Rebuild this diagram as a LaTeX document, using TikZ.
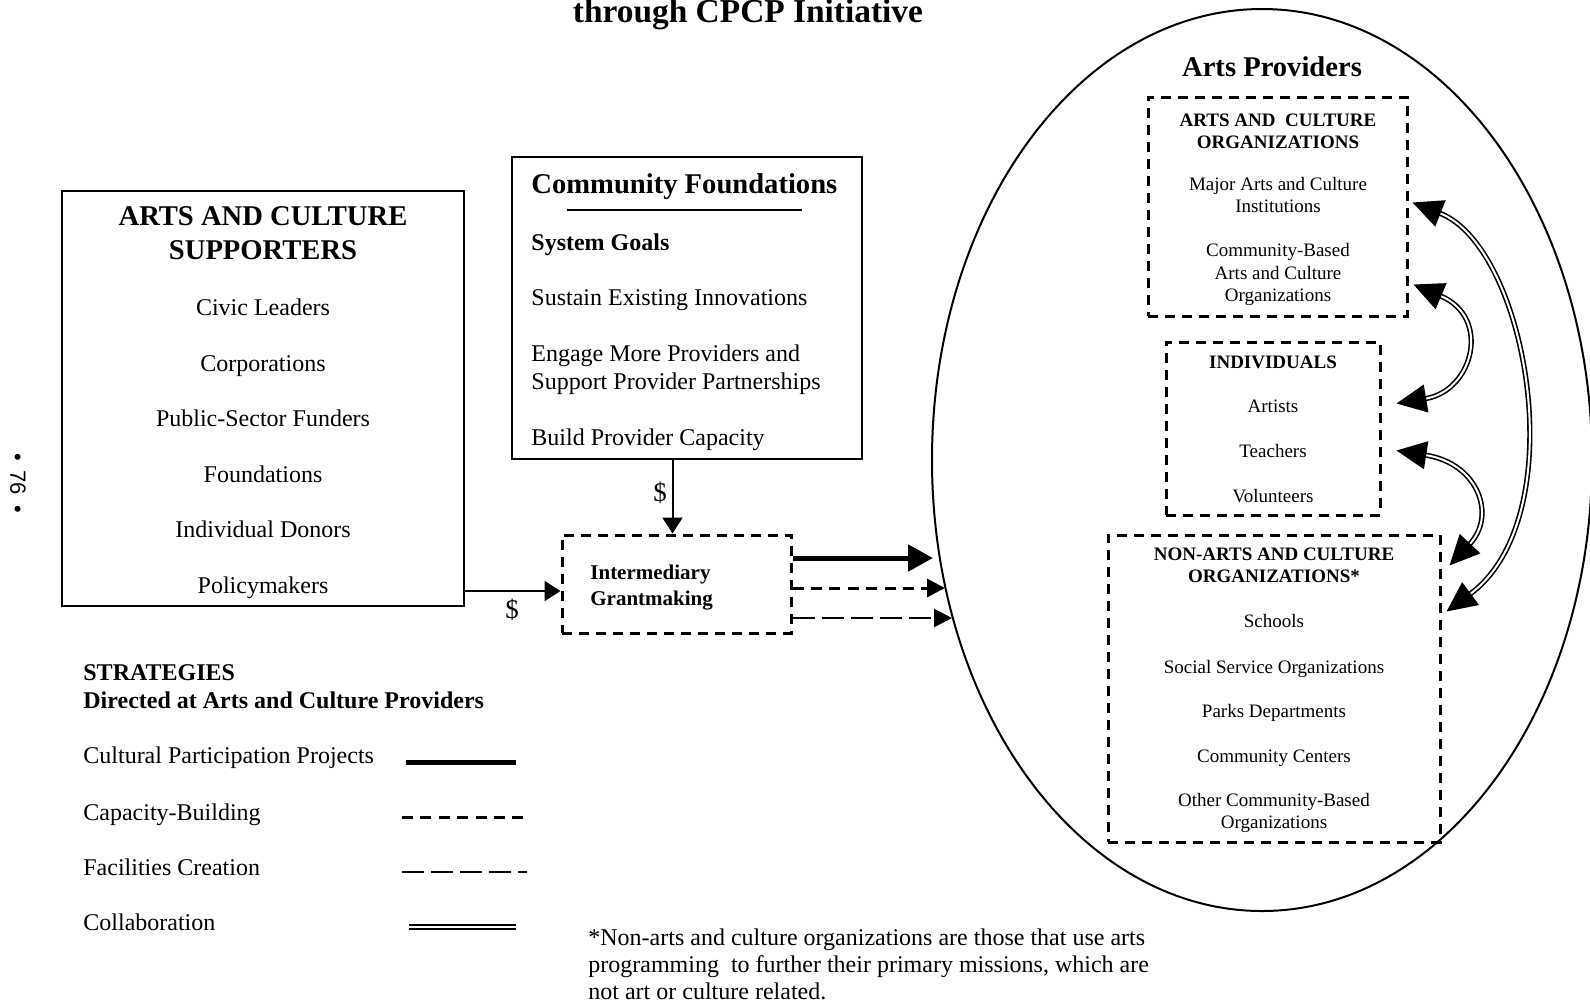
\documentclass[tikz,border=0pt]{standalone}
\usepackage{fontspec}
\setmainfont{Liberation Serif}
\newfontfamily\pagenumfont{Liberation Sans}
\usetikzlibrary{arrows.meta,calc,shapes.geometric}

\tikzset{
  bigtitle/.style={font=\fontsize{14.3}{16}\selectfont\bfseries, anchor=base, inner sep=0pt},
  itemtext/.style={font=\fontsize{12}{14}\selectfont, anchor=base, inner sep=0pt},
  itemhead/.style={font=\fontsize{12}{14}\selectfont\bfseries, anchor=base, inner sep=0pt},
  smalltext/.style={font=\fontsize{9.5}{11}\selectfont, anchor=base, inner sep=0pt},
  smallhead/.style={font=\fontsize{9.5}{11}\selectfont\bfseries, anchor=base, inner sep=0pt},
  solidbox/.style={draw, line width=1pt, inner sep=0pt},
  dashbox/.style={draw, line width=1.5pt, dash pattern=on 5pt off 3.5pt, inner sep=0pt},
  money/.style={-{Triangle[length=8pt,width=10pt]}, line width=1pt},
  cppline/.style={line width=2.5pt},
  capline/.style={line width=1.5pt, dash pattern=on 5.5pt off 3.7pt},
  facline/.style={line width=1.2pt, dash pattern=on 11pt off 3.5pt},
  collabline/.style={double, line width=1pt, double distance=1pt},
  collab/.style={arrows={Triangle[length=15pt,width=14pt]-Triangle[length=15pt,width=14pt]},
    double, line width=0.8pt, double distance=1pt},
}

\begin{document}
\begin{tikzpicture}[x=0.5pt, y=-0.5pt]
        \useasboundingbox (0,0) rectangle (1590,1003);

        % Title
        \node[font=\fontsize{16.7}{18}\selectfont\bfseries, anchor=base, inner sep=0pt] (title) at (748,22) {through CPCP Initiative};
        \node[font=\pagenumfont\fontsize{11}{12}\selectfont, rotate=-90] (pagenum) at (18,483) {•\hspace{5pt}76\hspace{5pt}•};

        % Arts Providers (ellipse)
        \node[draw, ellipse, line width=1pt, inner sep=0pt, minimum width=330pt, minimum height=451pt] (prov) at (1262,460) {};
        \node[bigtitle] (provtitle) at (1272,76) {Arts Providers};

        % Supporters
        \node[solidbox, minimum width=201pt, minimum height=207.5pt] (sup) at (263,398.5) {};
        \node[bigtitle] (suptitle) at (263,225) {ARTS AND CULTURE};
        \node[bigtitle] (suptitleb) at (263,259) {SUPPORTERS};
        \node[itemtext] (civic) at (263,315) {Civic Leaders};
        \node[itemtext] (corp) at (263,371) {Corporations};
        \node[itemtext] (public) at (263,426) {Public-Sector Funders};
        \node[itemtext] (found) at (263,482) {Foundations};
        \node[itemtext] (donors) at (263,537) {Individual Donors};
        \node[itemtext] (policy) at (263,593) {Policymakers};

        % Community Foundations
        \node[solidbox, minimum width=175pt, minimum height=151pt] (comfound) at (687,308) {};
        \node[bigtitle, anchor=base west] (cftitle) at (531,193) {Community Foundations};
        \draw[line width=1pt] (567,210) -- (802,210);
        \node[itemhead, anchor=base west] (goals) at (531,250) {System Goals};
        \node[itemtext, anchor=base west] (sustain) at (531,305) {Sustain Existing Innovations};
        \node[itemtext, anchor=base west] (engage) at (531,361) {Engage More Providers and};
        \node[itemtext, anchor=base west] (engageb) at (531,389) {Support Provider Partnerships};
        \node[itemtext, anchor=base west] (build) at (531,445) {Build Provider Capacity};

        % Intermediary Grantmaking
        \node[dashbox, minimum width=114.5pt, minimum height=49pt] (inter) at (676.5,584) {};
        \node[font=\fontsize{10.5}{12}\selectfont\bfseries, anchor=base west, inner sep=0pt] (intera) at (590,579) {Intermediary};
        \node[font=\fontsize{10.5}{12}\selectfont\bfseries, anchor=base west, inner sep=0pt] (interb) at (590,605) {Grantmaking};

        % Money flows
        \coordinate (supout) at ($(sup.south east)+(0,-16)$);
        \draw[money] (supout) -- (supout -| inter.west);
        \node[font=\fontsize{13.5}{15}\selectfont, inner sep=0pt] (dollara) at (512,610) {\$};
        \coordinate (dtop) at ($(inter.north)+(-4,0)$);
        \draw[money] (comfound.south -| dtop) -- (dtop);
        \node[font=\fontsize{13.5}{15}\selectfont, inner sep=0pt] (dollarb) at (660,493) {\$};

        % Strategies into the providers
        \coordinate (tipa) at (933,558);
        \coordinate (tipb) at (945,588);
        \coordinate (tipc) at (952,618);
        \draw[cppline, -{Triangle[length=12.5pt,width=13pt]}] (inter.east |- tipa) -- (tipa);
        \draw[capline, -{Triangle[length=9pt,width=9pt]}] (inter.east |- tipb) -- (tipb);
        \draw[facline, -{Triangle[length=9pt,width=9pt]}] (inter.east |- tipc) -- (tipc);

        % Arts and culture organizations
        \node[dashbox, minimum width=129.5pt, minimum height=109.5pt] (acorg) at (1277.5,206.5) {};
        \node[smallhead] (acorga) at (1278,126) {ARTS AND\ \ CULTURE};
        \node[smallhead] (acorgb) at (1278,148) {ORGANIZATIONS};
        \node[smalltext] (major) at (1278,190) {Major Arts and Culture};
        \node[smalltext] (majorb) at (1278,212) {Institutions};
        \node[smalltext] (cbased) at (1278,256) {Community-Based};
        \node[smalltext] (cbasedb) at (1278,279) {Arts and Culture};
        \node[smalltext] (cbasedc) at (1278,301) {Organizations};

        % Individuals
        \node[dashbox, minimum width=107pt, minimum height=86.5pt] (indiv) at (1273,428.5) {};
        \node[smallhead] (indiva) at (1273,368) {INDIVIDUALS};
        \node[smalltext] (artists) at (1273,412) {Artists};
        \node[smalltext] (teachers) at (1273,457) {Teachers};
        \node[smalltext] (volunteers) at (1273,502) {Volunteers};

        % Non-arts organizations
        \node[dashbox, minimum width=166pt, minimum height=153.5pt] (nonarts) at (1274,688.5) {};
        \node[smallhead] (nonartsa) at (1274,560) {NON-ARTS AND CULTURE};
        \node[smallhead] (nonartsb) at (1274,582) {ORGANIZATIONS*};
        \node[smalltext] (schools) at (1274,627) {Schools};
        \node[smalltext] (social) at (1274,673) {Social Service Organizations};
        \node[smalltext] (parks) at (1274,717) {Parks Departments};
        \node[smalltext] (centers) at (1274,762) {Community Centers};
        \node[smalltext] (other) at (1274,806) {Other Community-Based};
        \node[smalltext] (otherb) at (1274,828) {Organizations};

        % Collaboration
        \draw[collab] ($(acorg.east)+(4,-4)$) .. controls +(115,45) and +(128,-95) .. ($(nonarts.north east)+(5,78)$);
        \draw[collab] ($(acorg.south east)+(5,-33)$) .. controls +(78,33) and +(77,-13) .. ($(indiv.north east)+(15,63)$);
        \draw[collab] ($(indiv.north east)+(15,110)$) .. controls +(82,13) and +(47,-50) .. ($(nonarts.north east)+(8,32)$);

        % Legend
        \node[itemhead, anchor=base west] (strat) at (83,680) {STRATEGIES};
        \node[itemhead, anchor=base west] (stratb) at (83,708) {Directed at Arts and Culture Providers};
        \node[itemtext, anchor=base west] (lgcpp) at (83,763) {Cultural Participation Projects};
        \node[itemtext, anchor=base west] (lgcap) at (83,820) {Capacity-Building};
        \node[itemtext, anchor=base west] (lgfac) at (83,875) {Facilities Creation};
        \node[itemtext, anchor=base west] (lgcol) at (83,930) {Collaboration};
        \draw[cppline] (406,762) -- (516,762);
        \draw[capline] (402,817) -- (523,817);
        \draw[facline] (402,872) -- (527,872);
        \draw[collabline] (409,927) -- (516,927);

        % Footnote
        \node[itemtext, anchor=base west] (notea) at (588,945) {*Non-arts and culture organizations are those that use arts};
        \node[itemtext, anchor=base west] (noteb) at (588,972) {programming\ \ to further their primary missions, which are};
        \node[itemtext, anchor=base west] (notec) at (588,999) {not art or culture related.};
\end{tikzpicture}
\end{document}
